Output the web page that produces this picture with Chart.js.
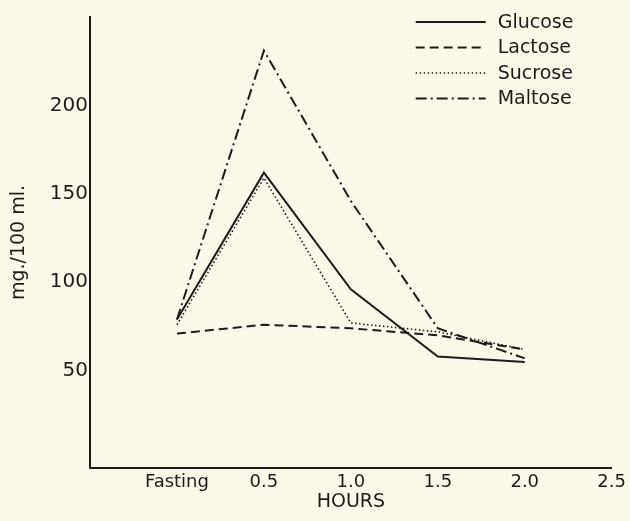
<!DOCTYPE html>
<html>
<head>
<meta charset="utf-8">
<script src="https://cdn.jsdelivr.net/npm/chart.js@4"></script>
<style>
  html, body { margin: 0; background: #fbf8ea; }
  #wrap { width: 630px; height: 521px; }
</style>
</head>
<body>
<div id="wrap"><canvas id="chart"></canvas></div>
<script>
// values (mg./100 ml.)
const xLabels = ['Fasting', '0.5', '1.0', '1.5', '2.0', '2.5'];
const yTicks = [50, 100, 150, 200];
const glucose = [79, 162, 96, 58, 55];
const lactose = [71, 76, 74, 70, 62];
const sucrose = [76, 159, 77, 72, 62];
const maltose = [79, 231, 146, 74, 57];

const ink = '#1c1c1c';
const font = 'DejaVu Sans';

const points = arr => arr.map((v, i) => ({ x: i, y: v }));

// legend drawn inside the plot, top right, like the original
const insideLegend = {
    id: 'insideLegend',
    afterDraw(chart) {
        const ctx = chart.ctx;
        const area = chart.chartArea;
        const x0 = area.right - 196;
        ctx.save();
        ctx.font = '19px "' + font + '"';
        ctx.textBaseline = 'middle';
        ctx.fillStyle = ink;
        chart.data.datasets.forEach((ds, i) => {
            const y = 22 + i * 25.5;
            ctx.beginPath();
            ctx.setLineDash(ds.borderDash || []);
            ctx.lineWidth = ds.borderWidth;
            ctx.strokeStyle = ink;
            ctx.moveTo(x0, y);
            ctx.lineTo(x0 + 70, y);
            ctx.stroke();
            ctx.fillText(ds.label, x0 + 82, y + 1);
        });
        ctx.restore();
    }
};

const ctx = document.getElementById('chart').getContext('2d');
const chart = new Chart(ctx, {
    type: 'line',
    data: {
        datasets: [
            { label: 'Glucose', data: points(glucose), borderWidth: 2, borderDash: [] },
            { label: 'Lactose', data: points(lactose), borderWidth: 2, borderDash: [9, 5] },
            { label: 'Sucrose', data: points(sucrose), borderWidth: 1.6, borderDash: [1.5, 2.5] },
            { label: 'Maltose', data: points(maltose), borderWidth: 2, borderDash: [11, 4, 2, 4] }
        ].map(ds => Object.assign(ds, {
            borderColor: ink,
            pointRadius: 0,
            tension: 0,
            fill: false
        }))
    },
    options: {
        responsive: true,
        maintainAspectRatio: false,
        animation: false,
        layout: { padding: { top: 17, right: 12, left: 0, bottom: 0 } },
        plugins: {
            legend: { display: false },
            tooltip: { enabled: false }
        },
        scales: {
            x: {
                type: 'linear',
                min: -1,
                max: 5,
                afterBuildTicks: scale => {
                    scale.ticks = xLabels.map((l, i) => ({ value: i }));
                },
                afterFit: scale => { scale.height = 53; },
                grid: { display: false, drawTicks: false },
                border: { display: true, color: ink, width: 2 },
                ticks: {
                    color: ink,
                    padding: 4,
                    maxRotation: 0,
                    font: { family: font, size: 18 },
                    callback: v => xLabels[v]
                },
                title: {
                    display: true,
                    text: 'HOURS',
                    color: ink,
                    font: { family: font, size: 19 },
                    padding: { top: 0, bottom: 8 }
                }
            },
            y: {
                min: -5,
                max: 250,
                afterBuildTicks: scale => {
                    scale.ticks = yTicks.map(v => ({ value: v }));
                },
                afterFit: scale => { scale.width = 90; },
                grid: { display: false, drawTicks: false },
                border: { display: true, color: ink, width: 2 },
                ticks: {
                    color: ink,
                    padding: 2,
                    font: { family: font, size: 20 }
                },
                title: {
                    display: true,
                    text: 'mg./100 ml.',
                    color: ink,
                    font: { family: font, size: 19 },
                    padding: { top: 8, bottom: 0 }
                }
            }
        }
    },
    plugins: [insideLegend]
});
</script>
</body>
</html>
